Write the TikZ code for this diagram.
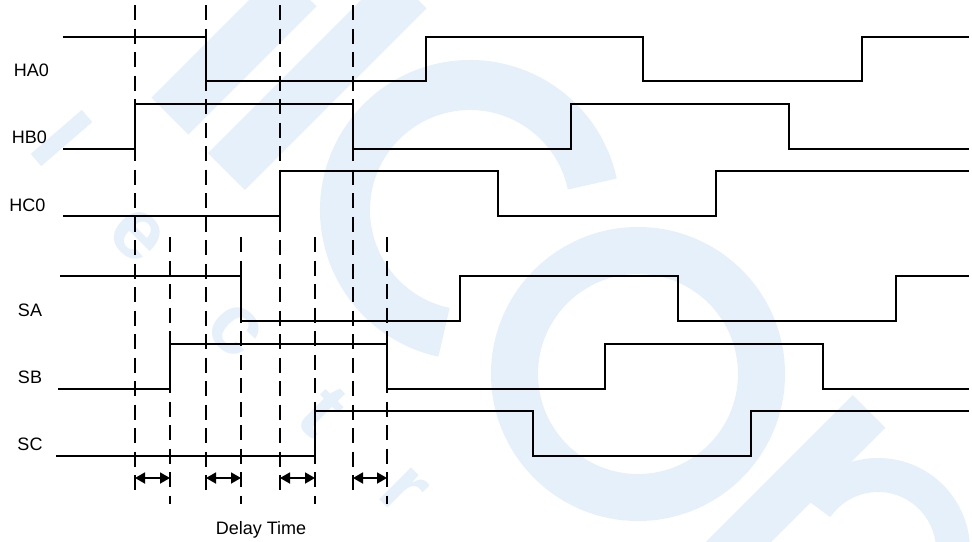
\documentclass[tikz,border=0pt]{standalone}
\usepackage{fontspec}
\setmainfont{Liberation Sans}
\usetikzlibrary{arrows.meta}
\definecolor{wm}{RGB}{229,240,250}
\begin{document}
\begin{tikzpicture}[x=1pt,y=-1pt,
  sig/.style={line width=1.7pt, line join=miter},
  guide/.style={line width=1.5pt, dash pattern=on 15pt off 8.5pt},
  dly/.style={line width=1.8pt, {Triangle[length=10pt,width=11pt]}-{Triangle[length=10pt,width=11pt]}},
  lbl/.style={anchor=base, inner sep=0pt, font=\fontsize{18}{18}\selectfont},
  wmband/.style={draw=wm, line cap=butt},
  wmletter/.style={text=wm, rotate=-45, inner sep=0pt, font=\bfseries\fontsize{85}{85}\selectfont}]
\useasboundingbox (0,0) rectangle (972,541);
\fill[white] (0,0) rectangle (972,541);
% ---------- watermark ----------
\begin{scope}
  \clip (0,0) rectangle (972,541);
  \draw[wmband, line width=16pt] (36,160) -- (87,116);
  \draw[wmband, line width=52pt] (170,116) -- (298,-12);
  \draw[wmband, line width=52pt] (226.5,171.5) -- (408,-10);
  \draw[wmband, line width=50pt] (470,210) ++(-12:125) arc[start angle=-12, end angle=-258, radius=125];
  \draw[wmband, line width=47pt] (638,374) circle[radius=123.5];
  \draw[wmband, line width=46pt] (869,411.5) -- (720,560.5);
  \draw[wmband, line width=34pt] (878,550) ++(215:75) arc[start angle=215, end angle=360, radius=75] -- (953,570);
  \node[wmletter] (we) at (137,235) {e};
  \node[wmletter] (wc) at (235,330) {c};
  \node[wmletter] (wt) at (323,411) {t};
  \node[wmletter] (wr) at (403,491) {r};
\end{scope}
% ---------- guide lines ----------
\foreach \gx in {135,206,280,353} {
  \coordinate (gt\gx) at (\gx,5);
  \coordinate (gb\gx) at (\gx,497);
  \draw[guide] (gt\gx) -- (gb\gx);
}
\foreach \gx in {170,241,315,387} {
  \coordinate (gt\gx) at (\gx,237);
  \coordinate (gb\gx) at (\gx,504);
  \draw[guide] (gt\gx) -- (gb\gx);
}
% ---------- waveforms ----------
\draw[sig] (63,37) -- (206,37) -- (206,81) -- (426,81) -- (426,37) -- (643,37) -- (643,81) -- (862,81) -- (862,37) -- (969,37);
\draw[sig] (63,149) -- (135,149) -- (135,104) -- (353,104) -- (353,149) -- (571,149) -- (571,104) -- (789,104) -- (789,149) -- (969,149);
\draw[sig] (63,216) -- (280,216) -- (280,171) -- (498,171) -- (498,216) -- (716,216) -- (716,171) -- (969,171);
\draw[sig] (60,276) -- (241,276) -- (241,321) -- (460,321) -- (460,276) -- (678,276) -- (678,321) -- (896,321) -- (896,276) -- (969,276);
\draw[sig] (58,389) -- (170,389) -- (170,344) -- (387,344) -- (387,389) -- (605,389) -- (605,344) -- (823,344) -- (823,389) -- (969,389);
\draw[sig] (56,456) -- (315,456) -- (315,411) -- (533,411) -- (533,456) -- (751,456) -- (751,411) -- (969,411);
% ---------- labels ----------
\node[lbl] (lHA) at (31.5,76.7) {HA0};
\node[lbl] (lHB) at (29.5,143) {HB0};
\node[lbl] (lHC) at (27.5,211) {HC0};
\node[lbl] (lSA) at (30,316) {SA};
\node[lbl] (lSB) at (30,383) {SB};
\node[lbl] (lSC) at (30,450) {SC};
\node[lbl] (lDT) at (261,534) {Delay Time};
% ---------- delay arrows ----------
\foreach \a/\b in {135/170,206/241,280/315,353/387} {
  \coordinate (da\a) at (\a,478);
  \coordinate (db\b) at (\b,478);
  \draw[dly] (da\a) -- (db\b);
}
\end{tikzpicture}
\end{document}
